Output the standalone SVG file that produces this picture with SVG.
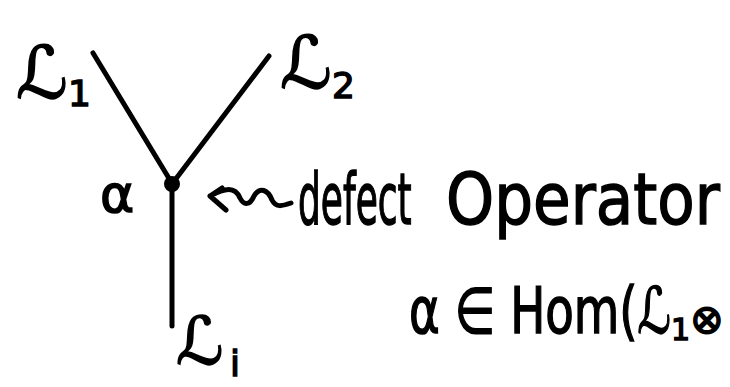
<svg xmlns="http://www.w3.org/2000/svg" width="730" height="387" viewBox="0 0 730 387">
<style>
.ln{stroke:#000;stroke-width:5;stroke-linecap:round;fill:none}
.t{font-family:"DejaVu Sans",sans-serif;fill:#000;stroke:#000;stroke-width:1.5}
</style>
<rect width="730" height="387" fill="#fff"/>
<g id="connectors">
<line class="ln" x1="93" y1="53" x2="170" y2="180"/>
<line class="ln" x1="269" y1="56" x2="175" y2="180"/>
<line class="ln" x1="172" y1="188" x2="172" y2="326"/>
<path class="ln" d="M210,196 L222,188 M210,196 L226,210 M210,196 C225,188 235,186 240,198 C244,206 250,205 254,196 C260,186 268,190 272,200 C276,208 282,206 291,203"/>
</g>
<g id="node-vertex">
<circle cx="172" cy="184" r="8" fill="#000"/>
<text class="t" x="100" y="212" font-size="52">α</text>
</g>
<g id="node-L1">
<text class="t" x="16" y="98" font-size="72">ℒ</text>
<text class="t" x="68" y="106" font-size="36">1</text>
</g>
<g id="node-L2">
<text class="t" x="280" y="88" font-size="72">ℒ</text>
<text class="t" x="332" y="98" font-size="36">2</text>
</g>
<g id="node-Li">
<text class="t" x="176" y="364" font-size="66">ℒ</text>
<text class="t" x="230" y="376" font-size="36">i</text>
</g>
<g id="label-defect">
<text class="t" transform="translate(298,224) scale(0.5,1)" font-size="72">defect</text>
<text class="t" transform="translate(446,224) scale(0.85,1)" font-size="72">Operator</text>
</g>
<g id="label-hom">
<text class="t" transform="translate(409,333) scale(0.73,1)" font-size="64">α ∈ Hom(ℒ</text>
<text class="t" x="671" y="340" font-size="30">1</text>
<text class="t" x="690" y="333" font-size="40">⊗</text>
</g>
</svg>
